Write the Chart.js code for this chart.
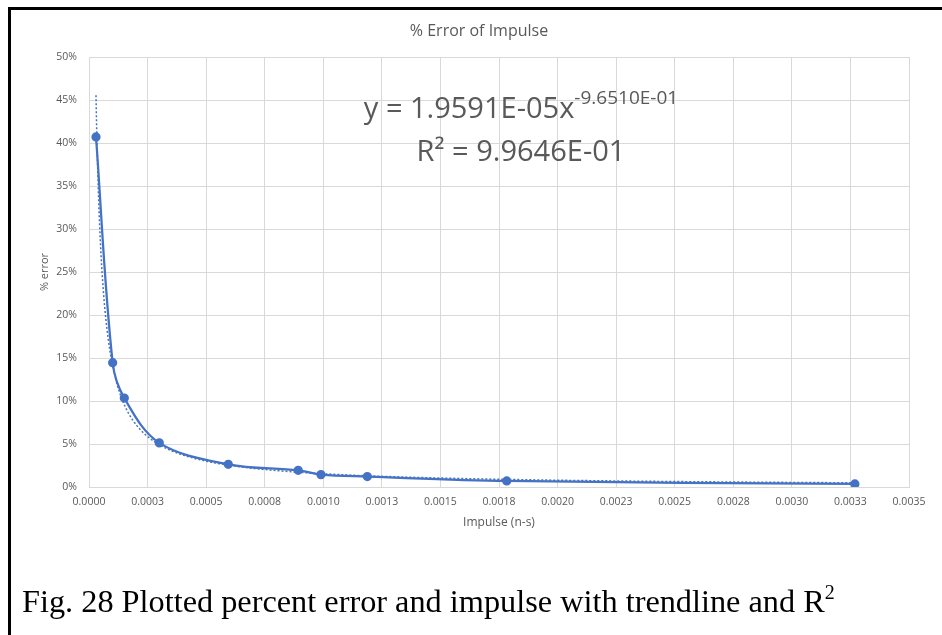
<!DOCTYPE html>
<html>
<head>
<meta charset="utf-8">
<script src="https://cdn.jsdelivr.net/npm/chart.js@4.4.1/dist/chart.umd.min.js"></script>
<style>
  html, body { margin: 0; padding: 0; background: #ffffff; }
  #page { position: relative; width: 942px; height: 635px; overflow: hidden; background: #ffffff; }
  #frame { position: absolute; left: 8px; top: 7px; width: 940px; height: 640px;
           border-top: 3px solid #000; border-left: 3px solid #000; box-sizing: border-box; }
  #chartBox { position: absolute; left: 0; top: 0; width: 942px; height: 635px; }
  #chartTitle { position: absolute; left: 329px; top: 19px; width: 300px; text-align: center;
                font-family: "Open Sans", sans-serif; font-size: 16px; line-height: 22px; color: #595959; }
  #equation { position: absolute; left: 321px; top: 85px; width: 400px; text-align: center;
              font-family: "Open Sans", sans-serif; font-size: 29px; line-height: 43px; color: #595959; }
  #equation .sup { font-size: 19px; position: relative; top: -14px; line-height: 0; }
  #caption { position: absolute; left: 22px; top: 583px; white-space: nowrap;
             font-family: "Liberation Serif", "Times New Roman", serif; font-size: 32.3px; line-height: 36px; color: #000; }
  #caption .sup { font-size: 20px; position: relative; top: -13px; line-height: 0; }
</style>
</head>
<body>
<div id="page">
  <div id="chartBox"><canvas id="chart" width="942" height="635"></canvas></div>
  <div id="frame"></div>
  <div id="chartTitle">% Error of Impulse</div>
  <div id="equation">
    <div>y = 1.9591E-05x<span class="sup">-9.6510E-01</span></div>
    <div>R² = 9.9646E-01</div>
  </div>
  <div id="caption">Fig. 28 Plotted percent error and impulse with trendline and R<span class="sup">2</span></div>
</div>
<script>
// Measured impulse (n-s) and percent error
const impulse = [0.0000299, 0.000101, 0.0001507, 0.000300, 0.0005945, 0.000893, 0.000990, 0.001188, 0.001783, 0.003269];
const percentError = [40.7, 14.45, 10.34, 5.13, 2.64, 1.94, 1.44, 1.21, 0.70, 0.35];

// Power trendline y = a * x^b (fraction), as printed on the chart
const trendCoeffA = [1.9591e-5];
const trendExponentB = [-0.9651];

// Axis tick labels
const xTickLabels = ['0.0000','0.0003','0.0005','0.0008','0.0010','0.0013','0.0015','0.0018',
                     '0.0020','0.0023','0.0025','0.0028','0.0030','0.0033','0.0035'];
const yTickLabels = ['0%','5%','10%','15%','20%','25%','30%','35%','40%','45%','50%'];

// Sample the trendline across the measured range
const trendPoints = [];
{
  const x0 = impulse[0], x1 = impulse[impulse.length - 1];
  const n = 300;
  for (let i = 0; i <= n; i++) {
    const t = i / n;
    // log spacing gives more samples where the curve bends
    const x = Math.exp(Math.log(x0) + t * (Math.log(x1) - Math.log(x0)));
    trendPoints.push({ x: x, y: 100 * trendCoeffA[0] * Math.pow(x, trendExponentB[0]) });
  }
}

const blue = '#4472C4';
const grey = '#595959';
const gridColor = '#d9d9d9';
const fontFamily = '"Open Sans", sans-serif';

new Chart(document.getElementById('chart'), {
  type: 'scatter',
  data: {
    datasets: [
      {
        label: '% error',
        data: impulse.map((x, i) => ({ x: x, y: percentError[i] })),
        showLine: true,
        borderColor: blue,
        backgroundColor: blue,
        borderWidth: 2.25,
        pointRadius: 3.5,
        pointHoverRadius: 3.5,
        tension: 0.35,
        order: 1
      },
      {
        label: 'Power trendline',
        data: trendPoints,
        showLine: true,
        borderColor: blue,
        borderWidth: 1.5,
        borderDash: [2, 2],
        pointRadius: 0,
        tension: 0,
        order: 2
      }
    ]
  },
  options: {
    responsive: false,
    animation: false,
    events: [],
    layout: { padding: { left: 0, right: 33, top: 57, bottom: 98 } },
    plugins: {
      legend: { display: false },
      tooltip: { enabled: false },
      title: { display: false }
    },
    scales: {
      x: {
        type: 'linear',
        min: 0,
        max: 0.0035,
        afterFit: (s) => { s.height = 50; },
        ticks: {
          stepSize: 0.00025,
          autoSkip: false,
          maxRotation: 0,
          padding: 8.7,
          color: grey,
          font: { family: fontFamily, size: 10.5 },
          callback: (v, i) => xTickLabels[i]
        },
        grid: { color: gridColor, lineWidth: 1, drawTicks: false },
        border: { color: gridColor },
        title: {
          display: true,
          text: 'Impulse (n-s)',
          color: grey,
          font: { family: fontFamily, size: 12 },
          padding: { top: 0, bottom: 6.8 }
        }
      },
      y: {
        type: 'linear',
        min: 0,
        max: 50,
        afterFit: (s) => { s.width = 89; },
        ticks: {
          stepSize: 5,
          padding: 12,
          color: grey,
          font: { family: fontFamily, size: 10.5 },
          callback: (v, i) => yTickLabels[i]
        },
        grid: { color: gridColor, lineWidth: 1, drawTicks: false },
        border: { color: gridColor },
        title: {
          display: true,
          text: '% error',
          color: grey,
          font: { family: fontFamily, size: 11 },
          padding: { top: 38.4, bottom: 0 }
        }
      }
    }
  }
});
</script>
</body>
</html>
